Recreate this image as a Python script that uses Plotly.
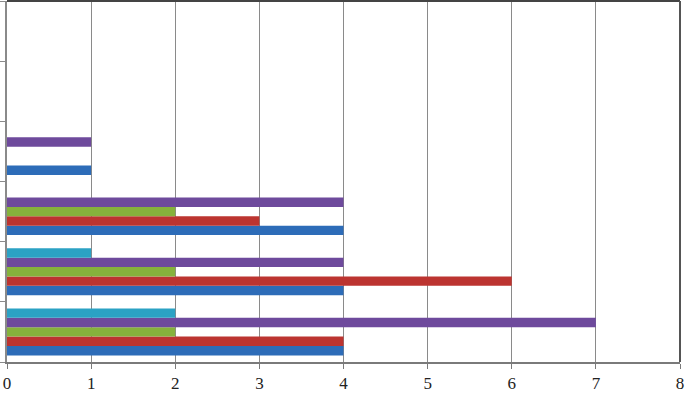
import plotly.graph_objects as go

categories = ["C1", "C2", "C3", "C4", "C5", "C6"]
series_names = ["S1", "S2", "S3", "S4", "S5"]
s1 = [4, 4, 4, 1, 0, 0]
s2 = [4, 6, 3, 0, 0, 0]
s3 = [2, 2, 2, 0, 0, 0]
s4 = [7, 4, 4, 1, 0, 0]
s5 = [2, 1, 0, 0, 0, 0]
x_ticks = [0, 1, 2, 3, 4, 5, 6, 7, 8]

colors = ["#2D6CB8", "#BC3430", "#86B23C", "#6E4A9C", "#2BA2C4"]

fig = go.Figure()
for name, vals, c in zip(series_names, [s1, s2, s3, s4, s5], colors):
    fig.add_trace(go.Bar(y=categories, x=vals, name=name, orientation="h",
                         marker=dict(color=c, line=dict(width=0))))

fig.update_layout(
    width=685, height=394,
    margin=dict(l=7, r=5, t=1, b=32, autoexpand=False),
    barmode="group", bargap=0.22, bargroupgap=0,
    plot_bgcolor="white", paper_bgcolor="white",
    showlegend=False,
    font=dict(family="Liberation Serif", size=16, color="#222"),
    xaxis=dict(range=[0, 8], tickvals=x_ticks, showgrid=True, gridcolor="#8a8a8a",
               gridwidth=1, zeroline=False, showline=True, linecolor="#7a7a7a",
               linewidth=1.5, ticks="outside", ticklen=5, tickcolor="#7a7a7a",
               automargin=False,
               tickfont=dict(family="Liberation Serif", size=17, color="#222")),
    yaxis=dict(showticklabels=False, showgrid=False, zeroline=False, showline=True,
               linecolor="#8a8a8a", linewidth=1.5, ticks="outside", ticklen=6,
               tickcolor="#8a8a8a", tickson="boundaries", automargin=False),
    shapes=[
        dict(type="line", xref="paper", yref="paper", x0=0, x1=1, y0=1, y1=1,
             line=dict(color="#444", width=2)),
        dict(type="line", xref="paper", yref="paper", x0=1, x1=1, y0=0, y1=1,
             line=dict(color="#555", width=2)),
    ],
)

fig.write_html("out.html", config={"displayModeBar": False},
               post_script="document.body.style.margin='0';document.body.style.overflow='hidden';")
